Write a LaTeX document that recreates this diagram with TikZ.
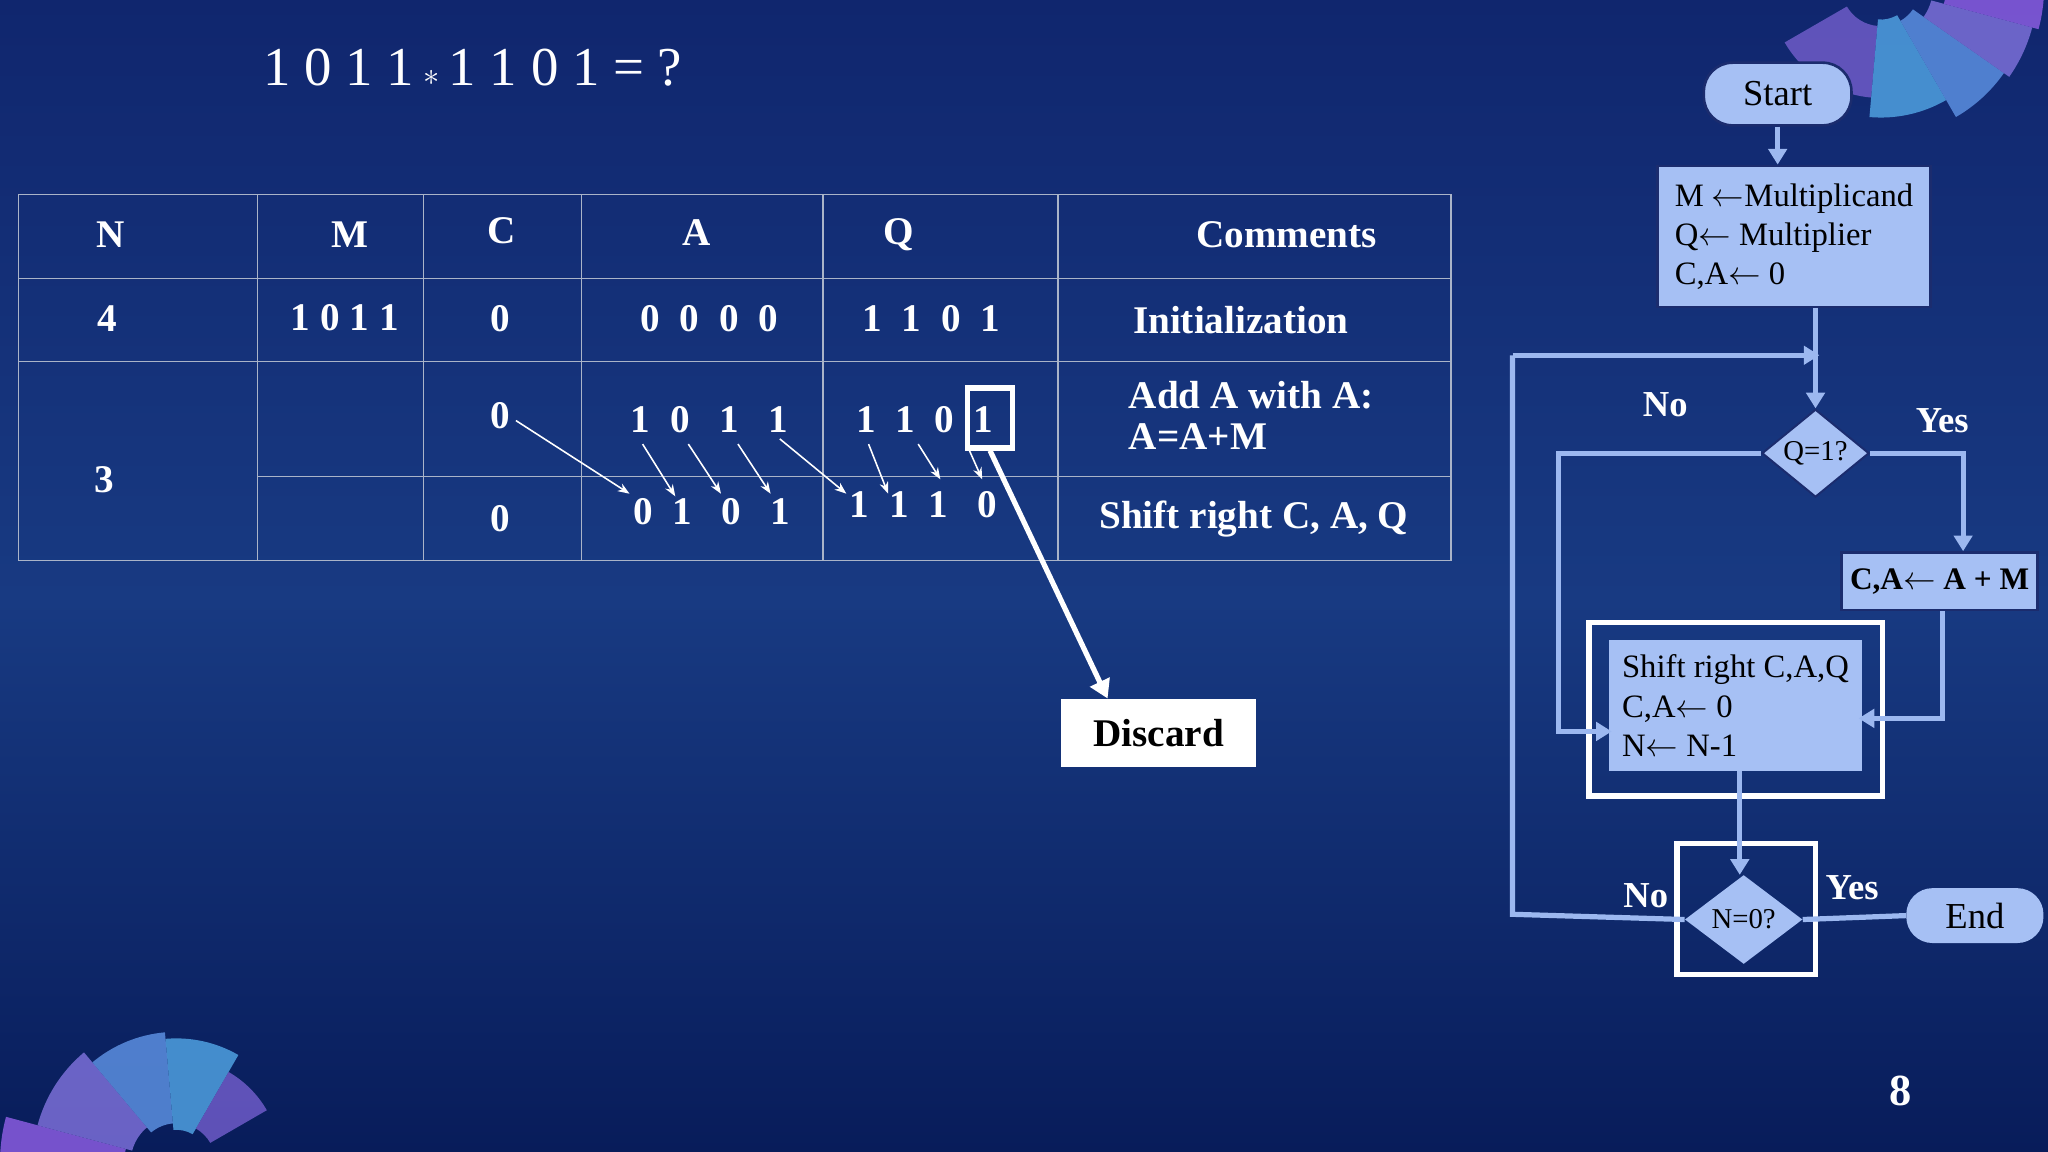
\documentclass[tikz,border=0pt]{standalone}
\usepackage{fontspec}
\setmainfont{Liberation Serif}
\usetikzlibrary{shapes.geometric,arrows.meta}
\definecolor{fl}{HTML}{A6C0F4}
\definecolor{fb}{HTML}{1B2C6E}
\definecolor{ln}{HTML}{9CB8F0}
\begin{document}
\begin{tikzpicture}[x=1pt,y=-1pt,
 tb/.style={font=\fontsize{30}{32}\selectfont\bfseries,text=white},
 ar/.style={white,line width=1.2pt,-{Stealth[length=9pt]}},
 fbox/.style={fill=fl,draw=fb,line width=2pt,align=left,font=\fontsize{25}{30}\selectfont,text=black,inner sep=6pt},
 fln/.style={ln,line width=4pt},
 fla/.style={ln,line width=4pt,-{Triangle[length=12pt,width=14pt]}},
 lab/.style={font=\fontsize{28}{30}\selectfont\bfseries,text=white}]
\useasboundingbox (0,0) rectangle (1568,882);
\shade[top color={rgb,255:red,16;green,38;blue,110},bottom color={rgb,255:red,24;green,58;blue,130}] (0,0) rectangle (1568,460);
\shade[top color={rgb,255:red,24;green,58;blue,130},bottom color={rgb,255:red,8;green,28;blue,90}] (0,460) rectangle (1568,882);
% decorations top right
\foreach \c/\a/\b/\r/\R in {{6E5BC8}/95/150/30/85,{4FA0E0}/60/95/25/100,{5B8FE0}/35/60/30/115,{7B6FD8}/15/35/40/120,{8A5CE0}/-10/15/50/125}{
 \definecolor{dc}{HTML}{\c}
 \fill[dc,opacity=.85] (1440,-10) ++(\a:\r) arc[start angle=\a,end angle=\b,radius=\r] -- ++(\b:\R-\r) arc[start angle=\b,end angle=\a,radius=\R] -- cycle;}
% bottom left
\foreach \c/\a/\b/\r/\R in {{8A5CE0}/-165/-195/40/135,{7B6FD8}/-130/-165/35/110,{5B8FE0}/-95/-130/30/100,{4FA0E0}/-60/-95/25/95,{6E5BC8}/-30/-60/30/80}{
 \definecolor{dc}{HTML}{\c}
 \fill[dc,opacity=.85] (135,890) ++(\a:\r) arc[start angle=\a,end angle=\b,radius=\r] -- ++(\b:\R-\r) arc[start angle=\b,end angle=\a,radius=\R] -- cycle;}
\node[text=white,font=\fontsize{42}{44}\selectfont] (title) at (362,52) {1 0 1 1\,$\ast$\,1 1 0 1 = ?};
\node[lab,font=\fontsize{34}{38}\selectfont\bfseries] (pg) at (1455,835) {8};
% table
\begin{scope}[draw={rgb,255:red,170;green,180;blue,200},line width=1pt]
\draw (14,149) rectangle (1111,429);
\foreach \x in {197,324,445,630,810} \draw (\x,149)--(\x,429);
\draw (14,213)--(1111,213); \draw (14,277)--(1111,277); \draw (197,365)--(1111,365);
\end{scope}
\node[tb] (hN) at (85,180) {N}; \node[tb] (hM) at (268,180) {M}; \node[tb] (hC) at (384,177) {C};
\node[tb] (hA) at (533,178) {A}; \node[tb] (hQ) at (688,180) {Q}; \node[tb] (hCo) at (985,180) {Comments};
\node[tb] (r4) at (82,244) {4}; \node[tb] (m1) at (264,243) {1 0 1 1}; \node[tb] (c1) at (383,244) {0};
\node[tb] (a1) at (543,244) {0\ \ 0\ \ 0\ \ 0}; \node[tb] (q1) at (713,244) {1\ \ 1\ \ 0\ \ 1};
\node[tb] (cm1) at (950,245) {Initialization};
\node[tb] (r3) at (80,367) {3};
\node[tb] (c2) at (383,318) {0};
\node[tb] (a2) at (543,321) {1\ \ 0\ \ \ 1\ \ \ 1};
\node[tb] (q2) at (708,321) {1\ \ 1\ \ 0\ \ 1};
\node[tb,align=left] (cm2) at (958,318) {Add A with A:\\A=A+M};
\node[tb] (c3) at (383,397) {0};
\node[tb] (a3) at (545,392) {0\ \ 1\ \ \ 0\ \ \ 1};
\node[tb] (q3) at (707,386) {1\ \ 1\ \ 1\ \ \ 0};
\node[tb] (cm3) at (960,397) {Shift right C, A, Q};
\coordinate (s0) at (395,322); \coordinate (e0) at (482,378);
\draw[ar] (s0)--(e0);
\foreach \a/\b/\c/\d in {492/340/517/380,527/340/552/378,565/340/590/378,597/336/648/378,665/340/680/378,703/340/720/367,740/340/752/367}{
 \draw[ar] (\a,\b)--(\c,\d);}
\node[draw=white,line width=4pt,minimum width=34pt,minimum height=46pt] (qb) at (758,320) {};
\node[fill=white,text=black,font=\fontsize{30}{32}\selectfont\bfseries,minimum width=149pt,minimum height=52pt] (disc) at (887,561) {Discard};
\draw[white,line width=4pt,-{Triangle[length=14pt,width=16pt]}] (qb.south) -- (disc.north -| 848,0);
% flowchart
\node[fbox,rounded corners=22pt,minimum width=113pt,minimum height=48pt,font=\fontsize{28}{30}\selectfont] (start) at (1361,72) {Start};
\node[fbox,minimum width=209pt,minimum height=108pt,anchor=north west,inner sep=4pt] (init) at (1268,126) {M $\leftarrow$Multiplicand\\Q$\leftarrow$ Multiplier\\C,A$\leftarrow$ 0};
\draw[fla] (start) -- (1361,126);
\node[diamond,fill=fl,draw=fb,line width=1.5pt,minimum width=82pt,minimum height=64pt,inner sep=0pt,font=\fontsize{22}{24}\selectfont] (d1) at (1390,347) {Q=1?};
\node[fbox,minimum width=150pt,minimum height=44pt,inner sep=2pt,font=\fontsize{24}{28}\selectfont\bfseries] (add) at (1485,445) {C,A$\leftarrow$ A + M};
\node[draw=white,line width=4pt,minimum width=225pt,minimum height=133pt] (sho) at (1329,543) {};
\node[fill=fl,minimum width=193pt,minimum height=100pt,align=left,font=\fontsize{25}{30}\selectfont,anchor=north west,inner sep=5pt] (sh) at (1232,490) {Shift right C,A,Q\\C,A$\leftarrow$ 0\\N$\leftarrow$ N-1};
\node[draw=white,line width=4pt,minimum width=106pt,minimum height=100pt] (d2o) at (1337,696) {};
\node[diamond,fill=fl,minimum width=90pt,minimum height=68pt,inner sep=0pt,font=\fontsize{22}{24}\selectfont] (d2) at (1335,704) {N=0?};
\node[fill=fl,rounded corners=20pt,minimum width=105pt,minimum height=42pt,font=\fontsize{28}{30}\selectfont] (end) at (1512,701) {End};
\draw[fla] (init.south -| d1) -- (d1.north);
\coordinate (lp1) at (1158,700); \coordinate (lp2) at (1158,272);
\draw[fln] (d2.west) -- (lp1) -- (lp2);
\draw[fla] (lp2) -- (1393,272);
\coordinate (n1) at (1193,347); \coordinate (n2) at (1193,560);
\draw[fla] (d1.west) -- (n1) -- (n2) -- (1234,560);
\coordinate (y1) at (1503,347);
\draw[fla] (d1.east) -- (y1) -- (add.north -| y1);
\coordinate (y2) at (1487,550);
\draw[fla] (add.south -| y2) -- (y2) -- (1423,550);
\draw[fla] (sh.south -| 1332,0) -- (d2.north -| 1332,0);
\draw[fln] (d2.east) -- (end.west);
\node[lab] (no1) at (1275,310) {No}; \node[lab] (yes1) at (1487,322) {Yes};
\node[lab] (no2) at (1260,686) {No}; \node[lab] (yes2) at (1418,680) {Yes};
\end{tikzpicture}
\end{document}
